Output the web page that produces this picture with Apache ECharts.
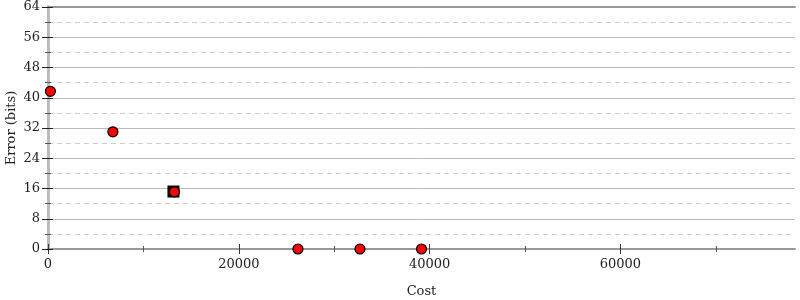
<!DOCTYPE html>
<html><head><meta charset="utf-8">
<script src="https://cdn.jsdelivr.net/npm/echarts@6/dist/echarts.min.js"></script>
<style>html,body{margin:0;padding:0;background:#fff}#c{width:800px;height:300px}</style>
</head><body><div id="c"></div>
<script>
const costs = [250, 6800, 13250, 26200, 32700, 39150];
const errors = [41.7, 31.0, 15.1, 0, 0, 0];
const bestCost = [13150];
const bestError = [15.2];
const xMajorTicks = [0, 20000, 40000, 60000];
const xMinorTicks = [10000, 30000, 50000, 70000];
const X_MAX = 78300;
const Y_MAX = 64;

const font = 'DejaVu Serif';
const chart = echarts.init(document.getElementById('c'));
const baseX = {type:'value', min:0, max:X_MAX, gridIndex:0, position:'bottom',
  splitLine:{show:false}, axisLabel:{show:false}, axisLine:{show:false}};
const baseY = {type:'value', min:0, max:Y_MAX, interval:8, gridIndex:0,
  splitLine:{show:false}, axisLabel:{show:false}, axisLine:{show:false}};
chart.setOption({
  animation:false,
  grid:{left:48, right:5, top:7, bottom:51, containLabel:false, outerBoundsMode:'none'},
  xAxis:[
    Object.assign({}, baseX, {
      axisLine:{show:true, lineStyle:{color:'#999', width:2}},
      axisTick:{show:true, customValues:xMajorTicks, length:5, lineStyle:{color:'#333'}},
      axisLabel:{show:true, customValues:xMajorTicks, margin:9, color:'#222', fontFamily:font, fontSize:13,
        formatter:v=>String(v)},
      name:'Cost', nameLocation:'middle', nameGap:36, nameMoveOverlap:false,
      nameTextStyle:{color:'#222', fontFamily:font, fontSize:13}
    }),
    Object.assign({}, baseX, {axisTick:{show:true, inside:true, customValues:xMajorTicks, length:5, lineStyle:{color:'#333'}}}),
    Object.assign({}, baseX, {axisTick:{show:true, customValues:xMinorTicks, length:3, lineStyle:{color:'#555'}}}),
    Object.assign({}, baseX, {axisTick:{show:true, inside:true, customValues:xMinorTicks, length:3, lineStyle:{color:'#555'}}}),
    Object.assign({}, baseX, {position:'top', axisTick:{show:false},
      axisLine:{show:true, lineStyle:{color:'#999', width:2}}})
  ],
  yAxis:[
    Object.assign({}, baseY, {position:'left',
      axisLine:{show:true, lineStyle:{color:'#bbb', width:3}},
      splitLine:{show:true, lineStyle:{color:'#bbb', width:1}},
      minorTick:{show:true, splitNumber:2, length:3, lineStyle:{color:'#555'}},
      minorSplitLine:{show:true, lineStyle:{color:'#ccc', width:1, type:[5,4]}},
      axisTick:{show:true, length:5, lineStyle:{color:'#222'}},
      axisLabel:{show:true, margin:8, color:'#222', fontFamily:font, fontSize:13},
      name:'Error (bits)', nameLocation:'middle', nameGap:30, nameMoveOverlap:false,
      nameTextStyle:{color:'#222', fontFamily:font, fontSize:13}
    }),
    Object.assign({}, baseY, {position:'left',
      axisTick:{show:true, inside:true, length:5, lineStyle:{color:'#222'}},
      minorTick:{show:true, splitNumber:2, length:3, lineStyle:{color:'#555'}}}),
    Object.assign({}, baseY, {position:'right',
      axisLine:{show:true, lineStyle:{color:'#bbb', width:3}},
      axisTick:{show:true, inside:true, length:6, lineStyle:{color:'#222'}},
      minorTick:{show:true, splitNumber:2, length:3, lineStyle:{color:'#555'}}}),
    Object.assign({}, baseY, {position:'right',
      axisTick:{show:true, length:3, lineStyle:{color:'#222'}},
      minorTick:{show:true, splitNumber:2, length:1, lineStyle:{color:'#555'}}})
  ],
  series:[
    {type:'scatter', xAxisIndex:0, yAxisIndex:0, symbol:'rect', symbolSize:12,
     itemStyle:{color:'#000', opacity:1}, data:bestCost.map((c,i)=>[c,bestError[i]]), z:2},
    {type:'scatter', xAxisIndex:0, yAxisIndex:0, symbol:'circle', symbolSize:10,
     itemStyle:{color:'#ff0000', borderColor:'#000', borderWidth:1.2, opacity:1},
     data:costs.map((c,i)=>[c,errors[i]]), z:3, clip:false}
  ]
});
</script></body></html>
